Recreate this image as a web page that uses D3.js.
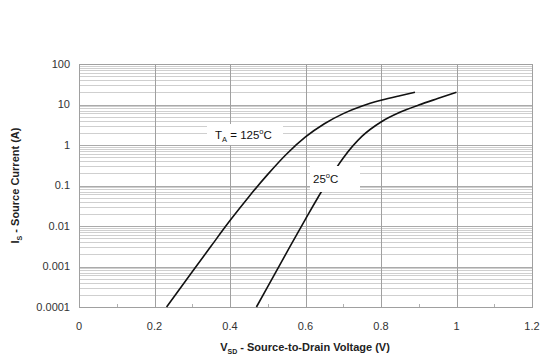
<!DOCTYPE html>
<html>
<head>
<meta charset="utf-8">
<script src="https://cdn.jsdelivr.net/npm/d3@7"></script>
<style>
  html, body { margin: 0; padding: 0; background: #fff; }
  svg { display: block; font-family: "Liberation Sans", Arial, sans-serif; }
</style>
</head>
<body>
<svg id="chart" width="542" height="358"></svg>
<script>
// Source-drain diode forward characteristic: I_S vs V_SD at two temperatures
const xTicks = [0, 0.2, 0.4, 0.6, 0.8, 1, 1.2];
const yTicks = [0.0001, 0.001, 0.01, 0.1, 1, 10, 100];
const yTickLabels = ["0.0001", "0.001", "0.01", "0.1", "1", "10", "100"];

const vsd125 = [0.232, 0.3, 0.35, 0.4, 0.45, 0.5, 0.55, 0.6, 0.65, 0.7, 0.75, 0.8, 0.85, 0.89];
const is125  = [0.0001, 0.00074, 0.0032, 0.0136, 0.053, 0.188, 0.6, 1.58, 3.35, 5.96, 9.2, 12.7, 16.5, 20];

const vsd25 = [0.47, 0.5, 0.55, 0.6, 0.65, 0.7, 0.75, 0.8, 0.85, 0.9, 0.95, 1.0];
const is25  = [0.0001, 0.00032, 0.0022, 0.0148, 0.093, 0.48, 1.65, 3.7, 6.4, 9.7, 14, 20];

const svg = d3.select("#chart");
const m = { left: 79, right: 10, top: 64, bottom: 51 };
const W = 542, H = 358;

const x = d3.scaleLinear().domain([0, 1.2]).range([m.left, W - m.right]);
const y = d3.scaleLog().domain([0.0001, 100]).range([H - m.bottom, m.top]);

const g = svg.append("g");

// minor horizontal grid (2..9 within each decade)
const minor = [];
for (let d = -4; d < 2; d++) {
  for (let k = 2; k <= 9; k++) minor.push(k * Math.pow(10, d));
}
g.selectAll(".hminor").data(minor).join("line")
  .attr("x1", x(0)).attr("x2", x(1.2))
  .attr("y1", d => Math.round(y(d)) + 0.5).attr("y2", d => Math.round(y(d)) + 0.5)
  .attr("stroke", "#cfcfcf").attr("stroke-width", 1);

// major horizontal grid
g.selectAll(".hmajor").data(yTicks).join("line")
  .attr("x1", x(0)).attr("x2", x(1.2))
  .attr("y1", d => Math.round(y(d)) + 0.5).attr("y2", d => Math.round(y(d)) + 0.5)
  .attr("stroke", "#aaaaaa").attr("stroke-width", 1);

// vertical grid
g.selectAll(".vgrid").data(xTicks).join("line")
  .attr("x1", d => Math.round(x(d)) + 0.5).attr("x2", d => Math.round(x(d)) + 0.5)
  .attr("y1", y(100)).attr("y2", y(0.0001))
  .attr("stroke", "#a0a0a0").attr("stroke-width", 1);

// minor x ticks at odd tenths
const xMinor = [0.1, 0.3, 0.5, 0.7, 0.9, 1.1];
g.selectAll(".xminor").data(xMinor).join("line")
  .attr("x1", d => Math.round(x(d)) + 0.5).attr("x2", d => Math.round(x(d)) + 0.5)
  .attr("y1", y(0.0001) - 3).attr("y2", y(0.0001))
  .attr("stroke", "#b0b0b0").attr("stroke-width", 1);

// plot frame
g.append("rect")
  .attr("x", x(0) + 0.5).attr("y", y(100) + 0.5)
  .attr("width", x(1.2) - x(0)).attr("height", y(0.0001) - y(100))
  .attr("fill", "none").attr("stroke", "#a0a0a0");

// tick labels
g.selectAll(".ylab").data(yTicks).join("text")
  .attr("x", 70).attr("y", d => y(d))
  .attr("dy", "0.35em").attr("text-anchor", "end")
  .attr("font-size", 11).attr("fill", "#333")
  .text((d, i) => yTickLabels[i]);

g.selectAll(".xlab").data(xTicks).join("text")
  .attr("x", d => x(d)).attr("y", 330)
  .attr("text-anchor", "middle")
  .attr("font-size", 11).attr("fill", "#333")
  .text(d => d3.format("")(d));

// curves
const line = d3.line().x(d => x(d[0])).y(d => y(d[1])).curve(d3.curveMonotoneX);
const series = [
  { v: vsd125, i: is125 },
  { v: vsd25, i: is25 }
];
g.selectAll(".curve").data(series).join("path")
  .attr("d", s => line(s.v.map((v, k) => [v, s.i[k]])))
  .attr("fill", "none").attr("stroke", "#111").attr("stroke-width", 1.6);

// in-plot labels on white boxes (drawn over the curves)
g.append("rect").attr("x", 207).attr("y", 124).attr("width", 76).attr("height", 21).attr("fill", "#fff");
const t1 = g.append("text").attr("x", 215).attr("y", 139).attr("font-size", 11.5).attr("fill", "#111");
t1.append("tspan").text("T");
t1.append("tspan").attr("font-size", 7.5).attr("dy", 3).text("A");
t1.append("tspan").attr("dy", -3).text(" = 125");
t1.append("tspan").attr("font-size", 7.5).attr("dy", -5).text("o");
t1.append("tspan").attr("dy", 5).text("C");

g.append("rect").attr("x", 310).attr("y", 166).attr("width", 50).attr("height", 26).attr("fill", "#fff");
const t2 = g.append("text").attr("x", 313).attr("y", 183).attr("font-size", 11.5).attr("fill", "#111");
t2.append("tspan").text("25");
t2.append("tspan").attr("font-size", 7.5).attr("dy", -5).text("o");
t2.append("tspan").attr("dy", 5).text("C");

// axis titles
const xt = g.append("text").attr("x", 305).attr("y", 351)
  .attr("text-anchor", "middle").attr("font-size", 11).attr("font-weight", "bold").attr("fill", "#222");
xt.append("tspan").text("V");
xt.append("tspan").attr("font-size", 7).attr("dy", 3).text("SD");
xt.append("tspan").attr("dy", -3).text(" - Source-to-Drain Voltage (V)");

const yt = g.append("text")
  .attr("transform", `translate(19,${(y(100) + y(0.0001)) / 2}) rotate(-90)`)
  .attr("text-anchor", "middle").attr("font-size", 11).attr("font-weight", "bold").attr("fill", "#222");
yt.append("tspan").text("I");
yt.append("tspan").attr("font-size", 7).attr("dy", 3).text("S");
yt.append("tspan").attr("dy", -3).text(" - Source Current (A)");
</script>
</body>
</html>
